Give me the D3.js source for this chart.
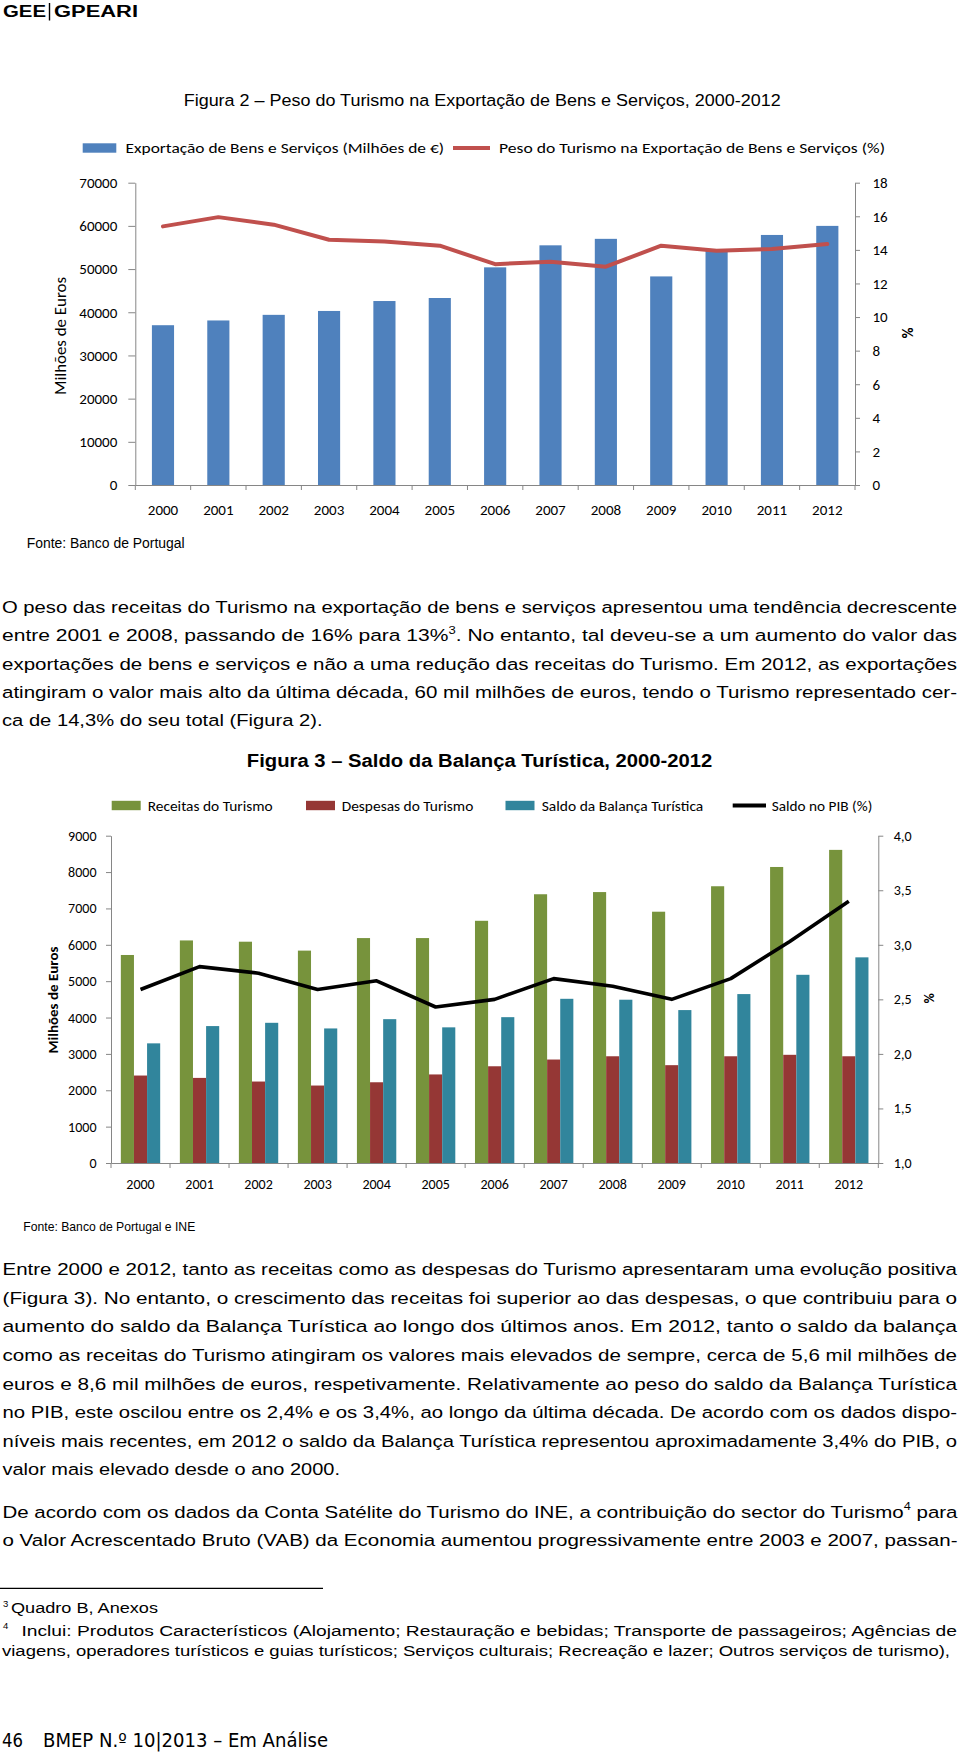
<!DOCTYPE html>
<html><head><meta charset="utf-8">
<script src="https://cdn.jsdelivr.net/npm/d3@7"></script>
<style>body{margin:0;background:#fff}svg{display:block}</style>
</head><body>
<svg id="page" width="960" height="1756"></svg>
<script>
// ---------------- DATA ----------------
const years = ["2000","2001","2002","2003","2004","2005","2006","2007","2008","2009","2010","2011","2012"];
// Figura 2
const exportacoes = [37000, 38100, 39400, 40300, 42600, 43300, 50400, 55500, 57000, 48300, 54500, 57900, 60000];
const pesoTurismo = [15.4, 15.95, 15.5, 14.6, 14.5, 14.25, 13.15, 13.3, 13.0, 14.25, 13.95, 14.05, 14.35];
const fig2LeftTicks = [0, 10000, 20000, 30000, 40000, 50000, 60000, 70000];
const fig2RightTicks = [0, 2, 4, 6, 8, 10, 12, 14, 16, 18];
// Figura 3
const receitas = [5720, 6120, 6085, 5840, 6185, 6185, 6660, 7390, 7450, 6910, 7610, 8140, 8610];
const despesas = [2405, 2340, 2240, 2130, 2220, 2435, 2660, 2845, 2935, 2690, 2935, 2975, 2935];
const saldoBalanca = [3290, 3765, 3855, 3700, 3955, 3730, 4010, 4515, 4490, 4205, 4645, 5175, 5655];
const saldoPIB = [2.59, 2.80, 2.74, 2.59, 2.67, 2.43, 2.50, 2.69, 2.62, 2.50, 2.69, 3.03, 3.40];
const fig3LeftTicks = [0, 1000, 2000, 3000, 4000, 5000, 6000, 7000, 8000, 9000];
const fig3RightTicks = [1.0, 1.5, 2.0, 2.5, 3.0, 3.5, 4.0];

// ---------------- TEXT ----------------
const para1 = [
  "O peso das receitas do Turismo na exportação de bens e serviços apresentou uma tendência decrescente",
  "entre 2001 e 2008, passando de 16% para 13%^3. No entanto, tal deveu-se a um aumento do valor das",
  "exportações de bens e serviços e não a uma redução das receitas do Turismo. Em 2012, as exportações",
  "atingiram o valor mais alto da última década, 60 mil milhões de euros, tendo o Turismo representado cer-",
  "ca de 14,3% do seu total (Figura 2)."
];
const para2 = [
  "Entre 2000 e 2012, tanto as receitas como as despesas do Turismo apresentaram uma evolução positiva",
  "(Figura 3). No entanto, o crescimento das receitas foi superior ao das despesas, o que contribuiu para o",
  "aumento do saldo da Balança Turística ao longo dos últimos anos. Em 2012, tanto o saldo da balança",
  "como as receitas do Turismo atingiram os valores mais elevados de sempre, cerca de 5,6 mil milhões de",
  "euros e 8,6 mil milhões de euros, respetivamente. Relativamente ao peso do saldo da Balança Turística",
  "no PIB, este oscilou entre os 2,4% e os 3,4%, ao longo da última década. De acordo com os dados dispo-",
  "níveis mais recentes, em 2012 o saldo da Balança Turística representou aproximadamente 3,4% do PIB, o",
  "valor mais elevado desde o ano 2000."
];
const para3 = [
  "De acordo com os dados da Conta Satélite do Turismo do INE, a contribuição do sector do Turismo^4 para",
  "o Valor Acrescentado Bruto (VAB) da Economia aumentou progressivamente entre 2003 e 2007, passan-"
];
const footnote3 = "Quadro B, Anexos";
const footnote4 = [
  "Inclui: Produtos Característicos (Alojamento; Restauração e bebidas; Transporte de passageiros; Agências de",
  "viagens, operadores turísticos e guias turísticos; Serviços culturais; Recreação e lazer; Outros serviços de turismo),"
];

// ---------------- DRAW ----------------
const svg = d3.select("#page");
svg.append("rect").attr("width",960).attr("height",1756).attr("fill","#fff");
const ARIAL = "'Liberation Sans', Arial, sans-serif";
const CAL = "Carlito, Lato, 'Open Sans', sans-serif";

function txt(o){
  const t = svg.append("text")
    .attr("x", o.x).attr("y", o.y)
    .attr("font-family", o.family || ARIAL)
    .attr("font-size", o.size)
    .attr("font-weight", o.weight || "normal")
    .attr("fill", o.fill || "#000")
    .attr("text-anchor", o.anchor || "start");
  if (o.transform) t.attr("transform", o.transform);
  const parts = o.s.split(/\^(\d)/);
  if (parts.length === 1) t.text(o.s);
  else {
    parts.forEach((p,i)=>{
      if (i % 2 === 0) { if (p) { const ts = t.append("tspan").text(p); if (i>0) ts.attr("dy", 0.42*o.size); } }
      else t.append("tspan").attr("font-size", o.size*0.62).attr("dy", -0.42*o.size).text(p);
    });
  }
  if (o.len) t.attr("textLength", o.len).attr("lengthAdjust", "spacingAndGlyphs");
  return t;
}

// Header
txt({x:3, y:16.5, s:"GEE", size:16, weight:"bold", len:43});
svg.append("line").attr("x1",49.5).attr("x2",49.5).attr("y1",3).attr("y2",20.5).attr("stroke","#000").attr("stroke-width",1.4);
txt({x:54, y:16.5, s:"GPEARI", size:16, weight:"bold", len:84});

// ===== Figura 2 =====
txt({x:183.7, y:106, s:"Figura 2 – Peso do Turismo na Exportação de Bens e Serviços, 2000-2012", size:16.8, len:597});
// legend
svg.append("rect").attr("x",82.7).attr("y",143.3).attr("width",33.6).attr("height",9.4).attr("fill","#4F81BD");
txt({x:125.5, y:153, s:"Exportação de Bens e Serviços (Milhões de €)", size:15, family:CAL, len:318.5});
svg.append("line").attr("x1",453).attr("x2",490).attr("y1",148).attr("y2",148).attr("stroke","#C0504D").attr("stroke-width",4);
txt({x:499, y:153, s:"Peso do Turismo na Exportação de Bens e  Serviços (%)", size:15, family:CAL, len:386});

const C1 = {left:135.3, right:855, top:182.7, bottom:485};
const x1 = d3.scaleBand().domain(years).range([C1.left, C1.right]).paddingInner(0.6).paddingOuter(0.3);
const y1L = d3.scaleLinear().domain([0,70000]).range([C1.bottom, C1.top]);
const y1R = d3.scaleLinear().domain([0,18]).range([C1.bottom, C1.top]);

svg.append("g").selectAll("rect").data(years.map((y,i)=>({y, v:exportacoes[i]}))).join("rect")
  .attr("x", d=>x1(d.y)).attr("width", x1.bandwidth())
  .attr("y", d=>y1L(d.v)).attr("height", d=>C1.bottom - y1L(d.v))
  .attr("fill","#4F81BD");

function styleAxis(g, fs){
  g.attr("font-family", CAL).attr("font-size", fs);
  g.select(".domain").attr("stroke","#868686").attr("stroke-width",1);
  g.selectAll(".tick line").attr("stroke","#868686");
  g.selectAll(".tick text").attr("fill","#000");
}
svg.append("g").attr("transform",`translate(${C1.left},0)`)
  .call(d3.axisLeft(y1L).tickValues(fig2LeftTicks).tickSize(7).tickSizeOuter(0).tickPadding(11).tickFormat(d3.format("d")))
  .call(g=>styleAxis(g,15));
svg.append("g").attr("transform",`translate(${C1.right},0)`)
  .call(d3.axisRight(y1R).tickValues(fig2RightTicks).tickSize(5).tickSizeOuter(0).tickPadding(12.5).tickFormat(d3.format("d")))
  .call(g=>styleAxis(g,15));
svg.append("g").attr("transform",`translate(0,${C1.bottom})`)
  .call(d3.axisBottom(x1).tickSize(0).tickSizeOuter(0).tickPadding(19))
  .call(g=>styleAxis(g,15));
svg.append("g").selectAll("line").data(d3.range(years.length+1)).join("line")
  .attr("x1", i=>C1.left + i*x1.step()).attr("x2", i=>C1.left + i*x1.step())
  .attr("y1", C1.bottom).attr("y2", C1.bottom+5).attr("stroke","#868686");

svg.append("path").datum(years.map((y,i)=>({y, v:pesoTurismo[i]})))
  .attr("fill","none").attr("stroke","#C0504D").attr("stroke-width",4)
  .attr("stroke-linejoin","round").attr("stroke-linecap","round")
  .attr("d", d3.line().x(d=>x1(d.y)+x1.bandwidth()/2).y(d=>y1R(d.v)));

txt({x:0, y:0, s:"Milhões de Euros", size:15.5, family:CAL, anchor:"middle", len:118, transform:"translate(65.5,336) rotate(-90)"});
txt({x:0, y:0, s:"%", size:15, family:CAL, weight:"bold", anchor:"middle", transform:"translate(901.5,333) rotate(90)"});
txt({x:26.7, y:548.2, s:"Fonte: Banco de Portugal", size:15.2, len:158});

// Paragraph helper
function paragraph(lines, x, y0, step, fs, right, lastLen){
  lines.forEach((l,i)=>{
    const last = i === lines.length-1;
    txt({x, y:y0 + i*step, s:l, size:fs, len: last ? lastLen : (right - x)});
  });
}
paragraph(para1, 2, 612.7, 28.4, 17.2, 957, 320.5);

// ===== Figura 3 =====
txt({x:246.8, y:766.5, s:"Figura 3 – Saldo da Balança Turística, 2000-2012", size:17.5, weight:"bold", len:465.4});

const series3 = [
  {key:"r", name:"Receitas do Turismo", values:receitas, color:"#77933C", lx:111.7, tx:147.7, tl:125},
  {key:"d", name:"Despesas do Turismo", values:despesas, color:"#953735", lx:306, tx:341.7, tl:131.6},
  {key:"s", name:"Saldo da Balança Turística", values:saldoBalanca, color:"#31859C", lx:505.5, tx:541.7, tl:161.6}
];
series3.forEach(s=>{
  svg.append("rect").attr("x",s.lx).attr("y",800.8).attr("width",29).attr("height",9.4).attr("fill",s.color);
  txt({x:s.tx, y:810.6, s:s.name, size:14.5, family:CAL, len:s.tl});
});
svg.append("line").attr("x1",732.7).attr("x2",766).attr("y1",805.5).attr("y2",805.5).attr("stroke","#000").attr("stroke-width",4);
txt({x:771.7, y:810.6, s:"Saldo no PIB (%)", size:14.5, family:CAL, len:100.6});

const C2 = {left:111, right:878.3, top:835.7, bottom:1163};
const x2 = d3.scaleBand().domain(years).range([C2.left, C2.right]).paddingInner(1/3).paddingOuter(1/6);
const xs = d3.scaleBand().domain(series3.map(s=>s.key)).range([0, x2.bandwidth()]);
const y2L = d3.scaleLinear().domain([0,9000]).range([C2.bottom, C2.top]);
const y2R = d3.scaleLinear().domain([1,4]).range([C2.bottom, C2.top]);

series3.forEach(s=>{
  svg.append("g").selectAll("rect").data(years.map((y,i)=>({y, v:s.values[i]}))).join("rect")
    .attr("x", d=>x2(d.y)+xs(s.key)).attr("width", xs.bandwidth())
    .attr("y", d=>y2L(d.v)).attr("height", d=>C2.bottom - y2L(d.v))
    .attr("fill", s.color);
});
const fmtPt = d3.formatLocale({decimal:",", thousands:".", grouping:[3], currency:["","€"]}).format(".1f");
svg.append("g").attr("transform",`translate(${C2.left},0)`)
  .call(d3.axisLeft(y2L).tickValues(fig3LeftTicks).tickSize(5).tickSizeOuter(0).tickPadding(9.5).tickFormat(d3.format("d")))
  .call(g=>styleAxis(g,14));
svg.append("g").attr("transform",`translate(${C2.right},0)`)
  .call(d3.axisRight(y2R).tickValues(fig3RightTicks).tickSize(5).tickSizeOuter(0).tickPadding(10.5).tickFormat(fmtPt))
  .call(g=>styleAxis(g,14));
svg.append("g").attr("transform",`translate(0,${C2.bottom})`)
  .call(d3.axisBottom(x2).tickSize(0).tickSizeOuter(0).tickPadding(16))
  .call(g=>styleAxis(g,14));
svg.append("g").selectAll("line").data(d3.range(years.length+1)).join("line")
  .attr("x1", i=>C2.left + i*x2.step()).attr("x2", i=>C2.left + i*x2.step())
  .attr("y1", C2.bottom).attr("y2", C2.bottom+5).attr("stroke","#868686");

svg.append("path").datum(years.map((y,i)=>({y, v:saldoPIB[i]})))
  .attr("fill","none").attr("stroke","#000").attr("stroke-width",3.6)
  .attr("stroke-linejoin","round")
  .attr("d", d3.line().x(d=>x2(d.y)+x2.bandwidth()/2).y(d=>y2R(d.v)));

txt({x:0, y:0, s:"Milhões de Euros", size:14, family:CAL, weight:"bold", anchor:"middle", len:107, transform:"translate(58,1000) rotate(-90)"});
txt({x:0, y:0, s:"%", size:14, family:CAL, weight:"bold", anchor:"middle", transform:"translate(923.5,998.3) rotate(90)"});
txt({x:23.3, y:1230.5, s:"Fonte: Banco de Portugal e INE", size:13.5, len:172});

paragraph(para2, 2.5, 1275.2, 28.6, 17.2, 957, 337.5);
paragraph(para3, 2.5, 1517.7, 28, 17.2, 957.5, 955);

// footnotes
svg.append("line").attr("x1",0).attr("x2",323).attr("y1",1588.3).attr("y2",1588.3).attr("stroke","#000").attr("stroke-width",1.2);
txt({x:3, y:1607, s:"3", size:9.5});
txt({x:11, y:1613, s:footnote3, size:15.4, len:147});
txt({x:3, y:1629, s:"4", size:9.5});
txt({x:21.4, y:1635.5, s:footnote4[0], size:15.4, len:935.6});
txt({x:2, y:1655.5, s:footnote4[1], size:15.4, len:948});

// footer
txt({x:2, y:1747, s:"46", size:19, family:"'DejaVu Sans', Verdana, sans-serif", len:21});
txt({x:43, y:1747, s:"BMEP N.º 10|2013 – Em Análise", size:19, family:"'DejaVu Sans', Verdana, sans-serif", len:285});
</script>
</body></html>
